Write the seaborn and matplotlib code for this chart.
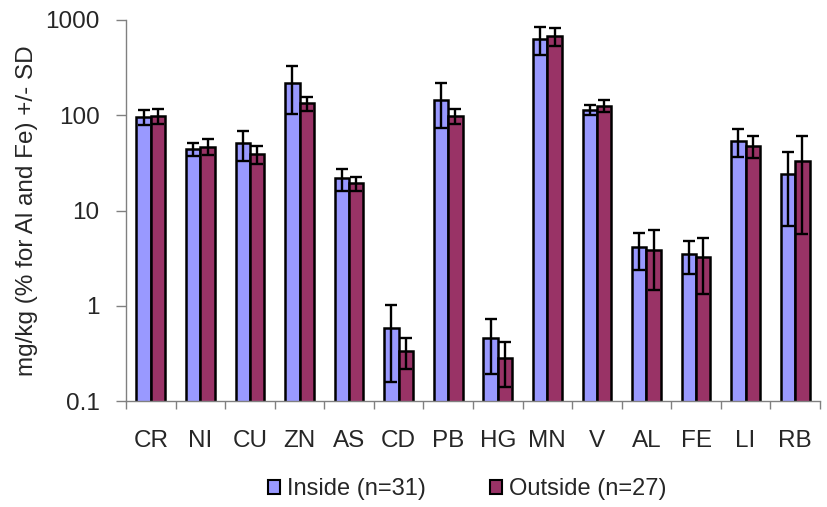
import matplotlib
matplotlib.use('Agg')
import matplotlib.pyplot as plt
import seaborn as sns
import numpy as np
import pandas as pd
from matplotlib.ticker import FixedLocator, NullFormatter

sns.set_style('white')
plt.rcParams['font.family'] = ['Liberation Sans', 'DejaVu Sans']

elements = ['CR', 'NI', 'CU', 'ZN', 'AS', 'CD', 'PB', 'HG', 'MN', 'V', 'AL', 'FE', 'LI', 'RB']
inside_mean = [96, 44.4, 51, 217, 21.8, 0.59, 145, 0.456, 635, 114, 4.1, 3.5, 53.8, 24.2]
inside_sd = [17, 7, 18, 113, 5.6, 0.43, 72, 0.265, 207, 14, 1.75, 1.33, 17.6, 17.4]
outside_mean = [98.6, 46.9, 39.3, 134, 19.4, 0.335, 98.6, 0.281, 682, 126, 3.85, 3.23, 48, 33.4]
outside_sd = [17, 9, 8.5, 23, 3.3, 0.12, 17, 0.14, 146, 19, 2.4, 1.9, 12.7, 27.8]
groups = ['Inside (n=31)', 'Outside (n=27)']
colors = ['#9999FF', '#993366']

df = pd.DataFrame({
    'element': elements * 2,
    'value': inside_mean + outside_mean,
    'sd': inside_sd + outside_sd,
    'group': [groups[0]] * len(elements) + [groups[1]] * len(elements),
})

fig = plt.figure(figsize=(8.27, 5.07), dpi=100)
ax = fig.add_axes([0.1524, 0.209, 0.8391, 0.7516])

sns.barplot(data=df, x='element', y='value', hue='group', palette=colors, saturation=1,
            width=0.58, edgecolor='black', linewidth=1.8, ax=ax, legend=True)
ax.set_yscale('log')
ax.set_ylim(0.1, 1000)

# error bars at the bar centres seaborn placed
for cont, g in zip(ax.containers, groups):
    sub = df[df['group'] == g]
    xs = [p.get_x() + p.get_width() / 2 for p in cont]
    ax.errorbar(xs, sub['value'].values, yerr=sub['sd'].values, fmt='none',
                ecolor='black', elinewidth=1.7, capsize=4, capthick=1.7, zorder=5)

n = len(elements)
ax.set_xlim(-0.5, n - 0.5)
ax.xaxis.set_major_locator(FixedLocator(np.arange(-0.5, n, 1.0)))
ax.xaxis.set_major_formatter(NullFormatter())
ax.xaxis.set_minor_locator(FixedLocator(np.arange(n)))
ax.set_xticklabels(elements, minor=True)
ax.tick_params(axis='x', which='major', direction='out', length=6, width=1, color='#808080', bottom=True)
ax.tick_params(axis='x', which='minor', length=0, labelsize=17.5, pad=21)

ax.set_yticks([0.1, 1, 10, 100, 1000])
ax.set_yticklabels(['0.1', '1', '10', '100', '1000'])
ax.yaxis.set_minor_locator(FixedLocator([]))
ax.tick_params(axis='y', which='major', direction='out', length=7, width=1, color='#808080', left=True, labelsize=17.5, pad=12)

for s in ['top', 'right']:
    ax.spines[s].set_visible(False)
for s in ['left', 'bottom']:
    ax.spines[s].set_color('#808080')
    ax.spines[s].set_linewidth(1)

ax.set_xlabel('')
ax.set_ylabel('mg/kg (% for Al and Fe) +/- SD', fontsize=17.5, labelpad=5)

ax.legend_.remove()
handles = [plt.Rectangle((0, 0), 1, 1, facecolor=c, edgecolor='black', linewidth=1.5)
           for c in colors]
fig.legend(handles, groups, loc='center', bbox_to_anchor=(0.565, 0.035), ncol=2,
           frameon=False, fontsize=17, handlelength=0.5, handleheight=0.5,
           handletextpad=0.3, columnspacing=2.7)

fig.savefig('out.png', dpi=100)
